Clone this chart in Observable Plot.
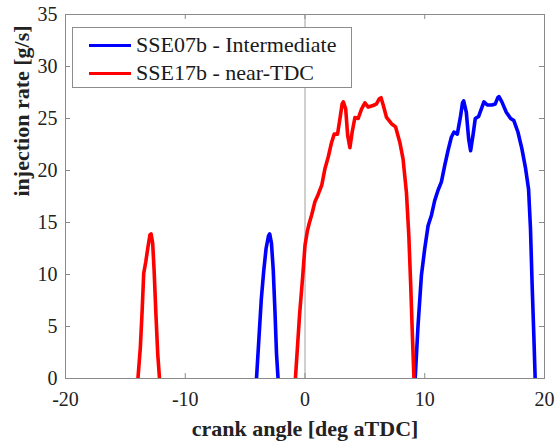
<!DOCTYPE html>
<html>
<head>
<meta charset="utf-8">
<script src="https://cdn.jsdelivr.net/npm/d3@7"></script>
<script src="https://cdn.jsdelivr.net/npm/@observablehq/plot@0.6"></script>
<style>
  html, body { margin: 0; padding: 0; background: #fff; }
  #wrap { position: relative; width: 559px; height: 444px; }
  #legend {
    position: absolute; left: 72px; top: 27px; width: 280px; height: 61px;
    border: 1px solid #8c8c8c; background: #fff; box-sizing: border-box;
    font-family: "Liberation Serif", "Times New Roman", serif; font-size: 22px; color: #1a1a1a;
  }
  .row { position: absolute; left: 0; height: 26px; display: flex; align-items: center; white-space: nowrap; }
  .sw { width: 42px; height: 3px; margin-left: 16px; margin-right: 5px; }
</style>
</head>
<body>
<div id="wrap">
  <div id="chart"></div>
  <div id="legend"></div>
</div>
<script>
const seriesNames = ["SSE07b - Intermediate", "SSE17b - near-TDC"];
const seriesColors = ["#0000ff", "#ff0000"];

const xTicks = [-20, -10, 0, 10, 20];
const yTicks = [0, 5, 10, 15, 20, 25, 30, 35];

// SSE17b - near-TDC (red)
const redPilotX = [-13.95,-13.75,-13.6,-13.47,-13.3,-13.12,-12.95,-12.85,-12.72,-12.6,-12.45,-12.3,-12.15];
const redPilotY = [0,3.0,6.5,10.1,11.2,12.6,13.8,13.9,13.0,10.4,6.2,2.4,0];
const redMainX = [-0.8,-0.45,-0.2,0,0.2,0.35,0.55,0.83,1.1,1.4,1.67,1.94,2.22,2.44,2.72,2.92,3.1,3.2,3.4,3.56,3.75,3.94,4.17,4.44,4.72,5.0,5.28,5.69,5.97,6.2,6.35,6.53,6.81,7.22,7.56,7.92,8.19,8.47,8.67,8.83,8.97,9.1];
const redMainY = [0,6.2,9.7,12.8,14.2,14.9,15.7,17.0,17.7,18.6,20.2,21.3,22.7,23.5,23.5,25.0,26.4,26.6,25.9,23.4,22.2,23.7,25.1,25.0,25.9,26.5,26.1,26.25,26.4,26.9,27.0,26.3,25.1,24.5,24.2,22.7,21.1,17.9,13.75,8.9,4.1,0];

// SSE07b - Intermediate (blue)
const bluePilotX = [-4.05,-3.85,-3.65,-3.45,-3.25,-3.05,-2.95,-2.8,-2.65,-2.5,-2.38,-2.25];
const bluePilotY = [0,3.8,7.6,10.3,12.5,13.7,13.9,13.0,10.4,6.2,2.4,0];
const blueMainX = [9.2,9.44,9.72,10.0,10.28,10.56,10.83,11.11,11.39,11.67,11.94,12.22,12.44,12.72,13.0,13.15,13.25,13.47,13.67,13.83,14.03,14.22,14.5,14.72,14.94,15.22,15.61,15.89,16.1,16.2,16.44,16.81,17.17,17.44,17.78,18.11,18.42,18.67,18.83,18.97,19.11,19.22];
const blueMainY = [0,5.1,9.9,12.5,14.7,15.7,17.1,18.1,18.9,20.5,21.9,23.2,23.7,23.5,25.3,26.5,26.7,25.6,23.0,21.9,23.4,25.0,25.2,25.9,26.6,26.3,26.3,26.4,27.0,27.1,26.6,25.6,25.0,24.8,23.7,22.1,20.2,18.2,14.4,8.9,4.1,0];

function seg(xs, ys, series, id) {
  return xs.map((x, i) => ({x, y: ys[i], series, seg: id}));
}
const data = [
  ...seg(bluePilotX, bluePilotY, seriesNames[0], "bp"),
  ...seg(blueMainX, blueMainY, seriesNames[0], "bm"),
  ...seg(redPilotX, redPilotY, seriesNames[1], "rp"),
  ...seg(redMainX, redMainY, seriesNames[1], "rm")
];

const W = 559, H = 444, mL = 65, mR = 15, mT = 14, mB = 66;
const innerW = W - mL - mR, innerH = H - mT - mB;
const axisColor = "#8a8a8a";
const font = "Liberation Serif, Times New Roman, serif";
const fmt = d => String(d);

const chart = Plot.plot({
  width: W, height: H,
  marginLeft: mL, marginRight: mR, marginTop: mT, marginBottom: mB,
  style: {fontFamily: font, fontSize: "20px", color: "#222", background: "#fff"},
  x: {domain: [-20, 20], ticks: xTicks, label: null},
  y: {domain: [0, 35], ticks: yTicks, label: null},
  color: {domain: seriesNames, range: seriesColors},
  marks: [
    Plot.ruleX([0], {stroke: "#a0a0a0", strokeWidth: 1}),
    Plot.line(data, {x: "x", y: "y", z: "seg", stroke: "series", strokeWidth: 3.6, strokeLinejoin: "round", strokeLinecap: "butt", clip: true}),
    Plot.frame({stroke: axisColor, strokeWidth: 1}),
    // inward ticks (box style)
    Plot.tickX(xTicks, {x: d => d, stroke: axisColor, insetTop: innerH - 5}),
    Plot.tickX(xTicks, {x: d => d, stroke: axisColor, insetBottom: innerH - 5}),
    Plot.tickY(yTicks, {y: d => d, stroke: axisColor, insetRight: innerW - 5}),
    Plot.tickY(yTicks, {y: d => d, stroke: axisColor, insetLeft: innerW - 5}),
    Plot.axisX(xTicks, {tickSize: 0, tickPadding: 13, fontSize: 20, fill: "#222", tickFormat: fmt}),
    Plot.axisY(yTicks, {tickSize: 0, tickPadding: 8, fontSize: 20, fill: "#222", tickFormat: fmt}),
    Plot.text(["crank angle [deg aTDC]"], {frameAnchor: "bottom", dy: 57, fontSize: 22, fontWeight: "bold", fill: "#222"}),
    Plot.text(["injection rate [g/s]"], {frameAnchor: "left", dx: -44, rotate: -90, fontSize: 22, fontWeight: "bold", fill: "#222"})
  ]
});
document.getElementById("chart").appendChild(chart);

const legend = document.getElementById("legend");
seriesNames.forEach((name, i) => {
  const row = document.createElement("div");
  row.className = "row";
  row.style.top = (i === 0 ? 4 : 32) + "px";
  const sw = document.createElement("div");
  sw.className = "sw";
  sw.style.background = seriesColors[i];
  const t = document.createElement("span");
  t.textContent = name;
  row.appendChild(sw);
  row.appendChild(t);
  legend.appendChild(row);
});
</script>
</body>
</html>
